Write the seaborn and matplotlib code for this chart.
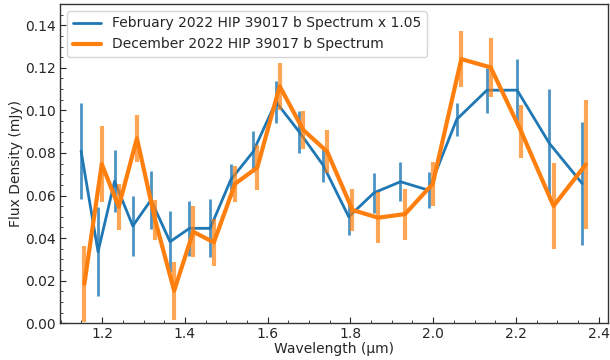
import numpy as np
import pandas as pd
import matplotlib
matplotlib.use("Agg")
import matplotlib.pyplot as plt
import seaborn as sns

# Blue: February 2022 spectrum (x 1.05)
feb_wave = [1.149, 1.190, 1.230, 1.274, 1.318, 1.364, 1.411, 1.461, 1.511, 1.565, 1.620,
            1.676, 1.734, 1.796, 1.857, 1.921, 1.989, 2.057, 2.130, 2.203, 2.281, 2.360]
feb_flux = [0.0809, 0.0336, 0.0668, 0.0457, 0.0579, 0.0383, 0.0446, 0.0446, 0.0675, 0.0806, 0.1040,
            0.0900, 0.0743, 0.0500, 0.0613, 0.0665, 0.0625, 0.0958, 0.1095, 0.1095, 0.0845, 0.0657]
feb_err = [0.0224, 0.0210, 0.0145, 0.0140, 0.0137, 0.0143, 0.0130, 0.0136, 0.0075, 0.0096, 0.0100,
           0.0098, 0.0077, 0.0084, 0.0094, 0.0092, 0.0085, 0.0078, 0.0106, 0.0145, 0.0255, 0.0287]

# Orange: December 2022 spectrum
dec_wave = [1.157, 1.199, 1.240, 1.284, 1.328, 1.374, 1.420, 1.470, 1.521, 1.575, 1.629,
            1.686, 1.744, 1.805, 1.867, 1.932, 1.999, 2.068, 2.139, 2.213, 2.291, 2.369]
dec_flux = [0.0185, 0.0748, 0.0547, 0.0869, 0.0485, 0.0153, 0.0430, 0.0380, 0.0655, 0.0732, 0.1114,
            0.0908, 0.0806, 0.0532, 0.0496, 0.0513, 0.0655, 0.1241, 0.1202, 0.0900, 0.0551, 0.0746]
dec_err = [0.0180, 0.0177, 0.0107, 0.0110, 0.0095, 0.0136, 0.0120, 0.0110, 0.0086, 0.0107, 0.0110,
           0.0088, 0.0100, 0.0100, 0.0120, 0.0120, 0.0102, 0.0132, 0.0140, 0.0125, 0.0204, 0.0305]

feb_label = "February 2022 HIP 39017 b Spectrum x 1.05"
dec_label = "December 2022 HIP 39017 b Spectrum"

sns.set_style("ticks")
plt.rcParams['font.family'] = ['DejaVu Sans']

fig, ax = plt.subplots(figsize=(6.1, 3.6), dpi=100)
fig.subplots_adjust(left=0.099, right=0.997, top=0.989, bottom=0.102)

blue = "#1f77b4"
orange = "#ff7f0e"

df_feb = pd.DataFrame({"wave": feb_wave, "flux": feb_flux})
df_dec = pd.DataFrame({"wave": dec_wave, "flux": dec_flux})

ax.errorbar(feb_wave, feb_flux, yerr=feb_err, fmt="none", ecolor=blue, elinewidth=2, alpha=0.8, zorder=2)
sns.lineplot(data=df_feb, x="wave", y="flux", ax=ax, color=blue, linewidth=2, sort=False,
             estimator=None, label=feb_label, zorder=3)
ax.errorbar(dec_wave, dec_flux, yerr=dec_err, fmt="none", ecolor=orange, elinewidth=3, alpha=0.7, zorder=4)
sns.lineplot(data=df_dec, x="wave", y="flux", ax=ax, color=orange, linewidth=3, sort=False,
             estimator=None, label=dec_label, zorder=5)

ax.set_xlim(1.099, 2.423)
ax.set_ylim(0, 0.15)
ax.set_xticks([1.2, 1.4, 1.6, 1.8, 2.0, 2.2, 2.4])
ax.set_yticks([0.00, 0.02, 0.04, 0.06, 0.08, 0.10, 0.12, 0.14])
ax.minorticks_on()
ax.tick_params(which="both", direction="in", top=False, right=False, labelsize=10)
ax.tick_params(which="major", length=4, pad=3)
ax.tick_params(which="minor", length=2)
ax.set_xlabel("Wavelength (µm)", fontsize=10, labelpad=0.5)
ax.set_ylabel("Flux Density (mJy)", fontsize=10, labelpad=1.5)
for s in ax.spines.values():
    s.set_color("#333333")
    s.set_linewidth(1)

ax.legend(loc="upper left", fontsize=10, frameon=True)

fig.savefig("out.png", dpi=100)
